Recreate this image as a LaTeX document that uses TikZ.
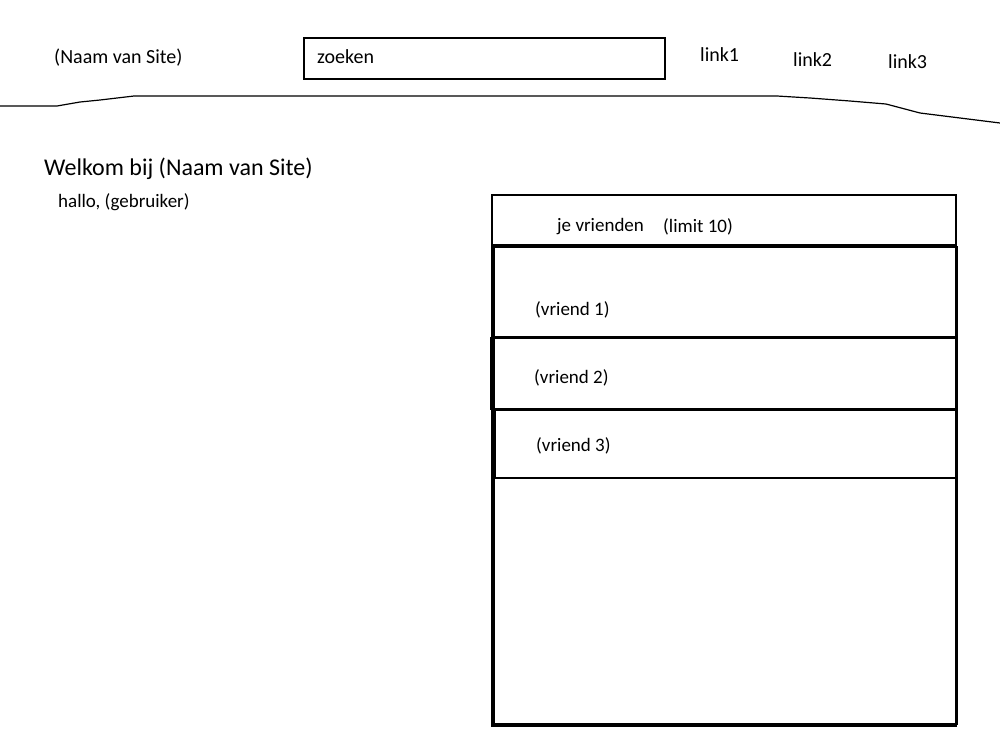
\documentclass[tikz,border=0pt]{standalone}
\usepackage{fontspec}
\setmainfont{Carlito}
\begin{document}
\begin{tikzpicture}[x=1pt,y=-1pt,
  frame/.style={draw=black,line width=2pt},
  label/.style={font=\fontsize{20}{24}\selectfont,anchor=mid west,inner sep=0pt},
  small/.style={font=\fontsize{19}{23}\selectfont,anchor=mid west,inner sep=0pt},
  bigtext/.style={font=\fontsize{24}{29}\selectfont,anchor=mid west,inner sep=0pt}]
\useasboundingbox (0,0) rectangle (1000,750);
\fill[white] (0,0) rectangle (1000,750);

% header bar
\node[label] (site) at (54,61) {(Naam van Site)};
\draw[frame] (304,38) rectangle (665,79);
\node[label] (zoek) at (317,61) {zoeken};
\node[label] (l1) at (700,59) {link1};
\node[label] (l2) at (793,64) {link2};
\node[label] (l3) at (888,66) {link3};

% hand-drawn divider
\draw[line width=1.2pt,line join=round] (0,106) -- (57,106) -- (80,102) -- (100,100) -- (134,96) -- (777,96)
  -- (810,98) -- (850,101) -- (886,104) -- (920,113) -- (960,118) -- (1000,123);

% welcome texts
\node[bigtext] (welkom) at (44,173) {Welkom bij (Naam van Site)};
\node[small] (hallo) at (58,205) {hallo, (gebruiker)};

% friends panel
\draw[frame] (492,195) rectangle (956,726);
\draw[frame] (492,245) -- (956,245);
\draw[frame] (494,247) rectangle (957,724);
\node[small] (jv) at (557,229) {je vrienden};
\node[small] (lim) at (663,230) {(limit 10)};

\draw[frame] (493,337) -- (957,337);
\node[small] (v1) at (535,313) {(vriend 1)};
\draw[frame] (491,338) rectangle (956,409);
\node[small] (v2) at (534,381) {(vriend 2)};
\draw[frame] (495,410) rectangle (956,478);
\node[small] (v3) at (536,449) {(vriend 3)};
\end{tikzpicture}
\end{document}
